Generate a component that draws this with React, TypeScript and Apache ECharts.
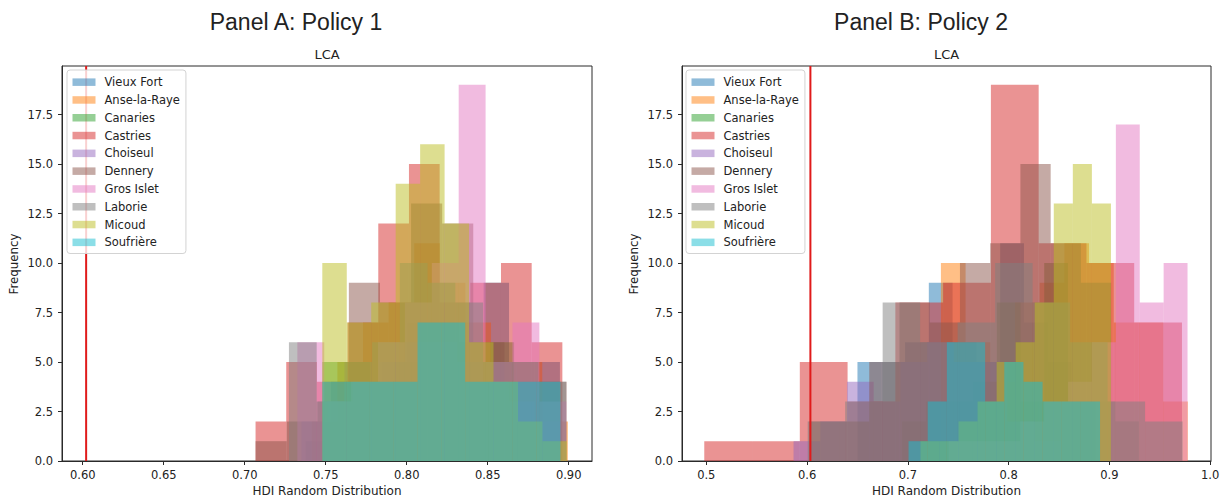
import React, { useEffect, useRef } from "react";
import * as echarts from "echarts";

// ---------- data ----------
const districts = [
  "Vieux Fort",
  "Anse-la-Raye",
  "Canaries",
  "Castries",
  "Choiseul",
  "Dennery",
  "Gros Islet",
  "Laborie",
  "Micoud",
  "Soufrière",
];
const baseColors = [
  "31,119,180",
  "255,127,14",
  "44,160,44",
  "214,39,40",
  "148,103,189",
  "140,86,75",
  "227,119,194",
  "127,127,127",
  "188,189,34",
  "23,190,207",
];

// Panel A (Policy 1): first and last bin edge of each district's histogram (10 equal bins)
const rangeA_VieuxFort = [0.7376, 0.8946];
const rangeA_AnseLaRaye = [0.7414, 0.8995];
const rangeA_Canaries = [0.7479, 0.8959];
const rangeA_Castries = [0.7067, 0.8961];
const rangeA_Choiseul = [0.735, 0.895];
const rangeA_Dennery = [0.7067, 0.8987];
const rangeA_GrosIslet = [0.7325, 0.8985];
const rangeA_Laborie = [0.7273, 0.8985];
const rangeA_Micoud = [0.7479, 0.8989];
const rangeA_Soufriere = [0.7479, 0.8949];

const countsA_VieuxFort = [1, 4, 4, 5, 7, 7, 6, 9, 5, 5];
const countsA_AnseLaRaye = [2, 5, 7, 8, 11, 9, 7, 5, 5, 2];
const countsA_Canaries = [5, 5, 4, 5, 7, 7, 5, 6, 4, 3];
const countsA_Castries = [2, 5, 4, 7, 12, 15, 8, 9, 10, 6];
const countsA_Choiseul = [2, 3, 4, 5, 6, 6, 5, 4, 3, 2];
const countsA_Dennery = [1, 2, 3, 9, 8, 13, 12, 6, 4, 4];
const countsA_GrosIslet = [6, 3, 4, 6, 8, 10, 19, 5, 7, 3];
const countsA_Laborie = [6, 3, 5, 6, 10, 9, 8, 5, 5, 4];
const countsA_Micoud = [10, 7, 8, 14, 16, 12, 6, 4, 2, 1];
const countsA_Soufriere = [4, 4, 4, 4, 7, 7, 4, 4, 4, 4];

// Panel B (Policy 2)
const rangeB_VieuxFort = [0.65, 0.886];
const rangeB_AnseLaRaye = [0.7328, 0.9778];
const rangeB_Canaries = [0.6943, 0.9293];
const rangeB_Castries = [0.498, 0.972];
const rangeB_Choiseul = [0.5866, 0.8516];
const rangeB_Dennery = [0.6017, 0.9017];
const rangeB_GrosIslet = [0.7405, 0.9775];
const rangeB_Laborie = [0.6006, 0.9726];
const rangeB_Micoud = [0.7125, 0.9015];
const rangeB_Soufriere = [0.7007, 0.8907];

const countsB_VieuxFort = [5, 5, 6, 9, 6, 5, 11, 7, 5, 3];
const countsB_AnseLaRaye = [10, 6, 4, 8, 9, 11, 10, 7, 7, 3];
const countsB_Canaries = [2, 3, 3, 4, 8, 3, 10, 3, 3, 2];
const countsB_Castries = [1, 1, 5, 3, 8, 9, 19, 11, 10, 7];
const countsB_Choiseul = [1, 2, 4, 3, 5, 6, 5, 5, 2, 1];
const countsB_Dennery = [2, 2, 5, 8, 7, 10, 11, 15, 11, 9];
const countsB_GrosIslet = [1, 1, 1, 2, 3, 4, 6, 17, 8, 10];
const countsB_Laborie = [2, 3, 8, 6, 7, 10, 8, 6, 3, 2];
const countsB_Micoud = [1, 1, 2, 3, 5, 6, 8, 13, 15, 13];
const countsB_Soufriere = [1, 3, 6, 6, 3, 5, 4, 3, 3, 3];

// vertical reference lines
const thresholdA = 0.6021;
const thresholdB = 0.6033;

// axes
const xLimitsA = [0.5872, 0.9144];
const xLimitsB = [0.4759, 1.0008];
const yMax = 19.95;
const xTicksA = [0.6, 0.65, 0.7, 0.75, 0.8, 0.85, 0.9];
const xTicksB = [0.5, 0.6, 0.7, 0.8, 0.9, 1.0];
const yTicks = [0, 2.5, 5, 7.5, 10, 12.5, 15, 17.5];

const rangesA = [
  rangeA_VieuxFort, rangeA_AnseLaRaye, rangeA_Canaries, rangeA_Castries, rangeA_Choiseul,
  rangeA_Dennery, rangeA_GrosIslet, rangeA_Laborie, rangeA_Micoud, rangeA_Soufriere,
];
const countsA = [
  countsA_VieuxFort, countsA_AnseLaRaye, countsA_Canaries, countsA_Castries, countsA_Choiseul,
  countsA_Dennery, countsA_GrosIslet, countsA_Laborie, countsA_Micoud, countsA_Soufriere,
];
const rangesB = [
  rangeB_VieuxFort, rangeB_AnseLaRaye, rangeB_Canaries, rangeB_Castries, rangeB_Choiseul,
  rangeB_Dennery, rangeB_GrosIslet, rangeB_Laborie, rangeB_Micoud, rangeB_Soufriere,
];
const countsB = [
  countsB_VieuxFort, countsB_AnseLaRaye, countsB_Canaries, countsB_Castries, countsB_Choiseul,
  countsB_Dennery, countsB_GrosIslet, countsB_Laborie, countsB_Micoud, countsB_Soufriere,
];

// ---------- helpers ----------
const FONT = "'DejaVu Sans', sans-serif";
const TEXT = "#222";
const FRAME = "#2a2a2a";

function histBins(range: number[], counts: number[]) {
  const w = (range[1] - range[0]) / counts.length;
  return counts.map((c, i) => [range[0] + i * w, range[0] + (i + 1) * w, c]);
}

function histSeries(panel: number, ranges: number[][], counts: number[][]) {
  return districts.map((name, i) => {
    const color = `rgba(${baseColors[i]},0.5)`;
    return {
      type: "custom",
      name,
      xAxisIndex: panel,
      yAxisIndex: panel,
      itemStyle: { color },
      encode: { x: [0, 1], y: 2 },
      clip: true,
      silent: true,
      z: 2,
      data: histBins(ranges[i], counts[i]),
      renderItem: (params: any, api: any) => {
        const p0 = api.coord([api.value(0), 0]);
        const p1 = api.coord([api.value(1), api.value(2)]);
        return {
          type: "rect",
          shape: { x: p0[0], y: p1[1], width: p1[0] - p0[0], height: p0[1] - p1[1] },
          style: { fill: color },
        };
      },
    };
  });
}

function xAxis(panel: number, limits: number[], ticks: number[], digits: number) {
  return {
    type: "value",
    gridIndex: panel,
    min: limits[0],
    max: limits[1],
    z: 10,
    axisLine: { show: true, onZero: false, lineStyle: { color: FRAME, width: 1 } },
    axisTick: { show: true, length: 4, customValues: ticks, lineStyle: { color: FRAME, width: 1 } },
    axisLabel: {
      customValues: ticks,
      formatter: (v: number) => v.toFixed(digits),
      fontFamily: FONT,
      fontSize: 11.5,
      color: TEXT,
      margin: 8,
    },
    splitLine: { show: false },
  };
}

function yAxis(panel: number) {
  return {
    type: "value",
    gridIndex: panel,
    min: 0,
    max: yMax,
    z: 10,
    axisLine: { show: true, lineStyle: { color: FRAME, width: 1 } },
    axisTick: { show: true, length: 4, customValues: yTicks, lineStyle: { color: FRAME, width: 1 } },
    axisLabel: {
      customValues: yTicks,
      formatter: (v: number) => v.toFixed(1),
      fontFamily: FONT,
      fontSize: 11.5,
      color: TEXT,
      margin: 9,
    },
    splitLine: { show: false },
  };
}

function legend(left: number) {
  return {
    data: districts,
    orient: "vertical",
    left,
    top: 70,
    icon: "rect",
    itemWidth: 23,
    itemHeight: 7.5,
    itemGap: 3.5,
    padding: [5, 6, 4, 5.5],
    borderColor: "#d3d3d3",
    borderWidth: 1,
    borderRadius: 3,
    backgroundColor: "rgba(255,255,255,0.8)",
    selectedMode: false,
    textStyle: { fontFamily: FONT, fontSize: 11.5, color: TEXT, lineHeight: 14.3, padding: [0, 0, 0, 4] },
  };
}

function vline(panel: number, x: number) {
  return {
    type: "line",
    name: "threshold" + panel,
    xAxisIndex: panel,
    yAxisIndex: panel,
    data: [
      [x, 0],
      [x, yMax],
    ],
    symbol: "none",
    silent: true,
    z: 3,
    lineStyle: { color: "#e01b1b", width: 2 },
  };
}

function txt(x: number, y: number, text: string, font: string, rotation = 0) {
  return {
    type: "text",
    x,
    y,
    rotation,
    silent: true,
    style: {
      text,
      font,
      fill: TEXT,
      align: "center",
      verticalAlign: "middle",
      textAlign: "center",
      textVerticalAlign: "middle",
    },
  };
}

export default function App() {
  const ref = useRef<HTMLDivElement>(null);
  useEffect(() => {
    if (!ref.current) return;
    const chart = echarts.init(ref.current, null, { renderer: "svg" });
    const option: any = {
      animation: false,
      backgroundColor: "#ffffff",
      grid: [
        { left: 62, top: 66, width: 530, height: 395, show: true, borderColor: FRAME, borderWidth: 1, backgroundColor: "transparent" },
        { left: 682, top: 66, width: 529, height: 395, show: true, borderColor: FRAME, borderWidth: 1, backgroundColor: "transparent" },
      ],
      xAxis: [xAxis(0, xLimitsA, xTicksA, 2), xAxis(1, xLimitsB, xTicksB, 1)],
      yAxis: [yAxis(0), yAxis(1)],
      legend: [legend(67), legend(686)],
      series: [
        ...histSeries(0, rangesA, countsA),
        vline(0, thresholdA),
        ...histSeries(1, rangesB, countsB),
        vline(1, thresholdB),
      ],
      graphic: [
        txt(296, 22, "Panel A: Policy 1", "23px 'Liberation Sans', Arial, sans-serif"),
        txt(921, 22, "Panel B: Policy 2", "23px 'Liberation Sans', Arial, sans-serif"),
        txt(327, 54, "LCA", "13px 'DejaVu Sans', sans-serif"),
        txt(946.5, 54, "LCA", "13px 'DejaVu Sans', sans-serif"),
        txt(327, 491, "HDI Random Distribution", "12px 'DejaVu Sans', sans-serif"),
        txt(946.5, 491, "HDI Random Distribution", "12px 'DejaVu Sans', sans-serif"),
        txt(14, 264, "Frequency", "11.8px 'DejaVu Sans', sans-serif", Math.PI / 2),
        txt(634, 264, "Frequency", "11.8px 'DejaVu Sans', sans-serif", Math.PI / 2),
      ],
    };
    chart.setOption(option);
    return () => chart.dispose();
  }, []);
  return (
    <div
      ref={ref}
      style={{ position: "fixed", left: 0, top: 0, width: 1228, height: 503, background: "#fff" }}
    />
  );
}
